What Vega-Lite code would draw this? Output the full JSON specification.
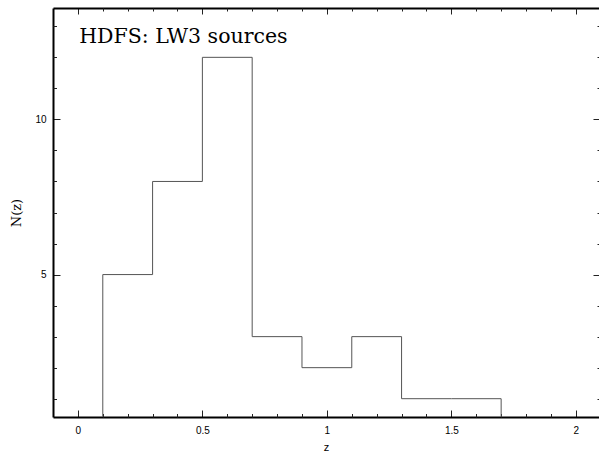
{
  "$schema": "https://vega.github.io/schema/vega-lite/v6.json",
  "width": 546,
  "height": 409,
  "autosize": {"type": "none"},
  "padding": {"left": 53, "top": 8, "right": 0, "bottom": 36},
  "background": "white",
  "config": {
    "view": {"stroke": null},
    "axis": {
      "grid": false,
      "domain": false,
      "labelFont": "Liberation Sans",
      "labelFontSize": 10,
      "labelColor": "black",
      "tickColor": "#222",
      "tickWidth": 1,
      "titleColor": "black",
      "labelFlush": false,
      "labelOverlap": false
    }
  },
  "data": {
    "values": [
      {"z": 0, "n": 0},
      {"z": 0.1, "n": 5},
      {"z": 0.3, "n": 8},
      {"z": 0.5, "n": 12},
      {"z": 0.7, "n": 3},
      {"z": 0.9, "n": 2},
      {"z": 1.1, "n": 3},
      {"z": 1.3, "n": 1},
      {"z": 1.5, "n": 1},
      {"z": 1.7, "n": 0}
    ]
  },
  "layer": [
    {
      "mark": {"type": "line", "interpolate": "step-after", "stroke": "#555", "strokeWidth": 1, "clip": true},
      "encoding": {
        "x": {
          "field": "z", "type": "quantitative",
          "scale": {"domain": [-0.1, 2.093], "nice": false, "zero": false},
          "axis": {
            "orient": "bottom", "values": [0, 0.5, 1, 1.5, 2], "format": "~g",
            "tickSize": -7, "labelPadding": 15,
            "title": "z", "titleFont": "Liberation Sans", "titleFontSize": 11, "titleFontWeight": "normal", "titlePadding": 6,
            "domain": true, "domainWidth": 2, "domainColor": "black"
          }
        },
        "y": {
          "field": "n", "type": "quantitative",
          "scale": {"domain": [0.41, 13.59], "nice": false, "zero": false},
          "axis": {
            "orient": "left", "values": [5, 10],
            "tickSize": -7, "labelPadding": 14,
            "title": "N(z)", "titleFont": "DejaVu Serif", "titleFontSize": 13, "titleFontWeight": "normal", "titlePadding": 11,
            "domain": true, "domainWidth": 2, "domainColor": "black"
          }
        }
      }
    },
    {
      "mark": {"type": "line", "opacity": 0},
      "encoding": {
        "x": {
          "field": "z", "type": "quantitative",
          "scale": {"domain": [-0.1, 2.093], "nice": false, "zero": false},
          "axis": {
            "orient": "bottom",
            "values": [0.1, 0.2, 0.3, 0.4, 0.6, 0.7, 0.8, 0.9, 1.1, 1.2, 1.3, 1.4, 1.6, 1.7, 1.8, 1.9],
            "tickSize": -3.5, "labels": false, "title": null
          }
        },
        "y": {
          "field": "n", "type": "quantitative",
          "scale": {"domain": [0.41, 13.59], "nice": false, "zero": false},
          "axis": {
            "orient": "left",
            "values": [1, 2, 3, 4, 6, 7, 8, 9, 11, 12, 13],
            "tickSize": -3.5, "labels": false, "title": null
          }
        }
      }
    },
    {
      "mark": {"type": "line", "opacity": 0},
      "encoding": {
        "x": {
          "field": "z", "type": "quantitative",
          "scale": {"domain": [-0.1, 2.093], "nice": false, "zero": false},
          "axis": {
            "orient": "top", "values": [0, 0.5, 1, 1.5, 2],
            "tickSize": -6, "labels": false, "title": null,
            "domain": true, "domainWidth": 2, "domainColor": "black"
          }
        },
        "y": {
          "field": "n", "type": "quantitative",
          "scale": {"domain": [0.41, 13.59], "nice": false, "zero": false},
          "axis": {
            "orient": "right", "values": [5, 10],
            "tickSize": -6, "labels": false, "title": null
          }
        }
      }
    },
    {
      "mark": {"type": "line", "opacity": 0},
      "encoding": {
        "x": {
          "field": "z", "type": "quantitative",
          "scale": {"domain": [-0.1, 2.093], "nice": false, "zero": false},
          "axis": {
            "orient": "top",
            "values": [0.1, 0.2, 0.3, 0.4, 0.6, 0.7, 0.8, 0.9, 1.1, 1.2, 1.3, 1.4, 1.6, 1.7, 1.8, 1.9, 2.0],
            "tickSize": -3, "labels": false, "title": null
          }
        },
        "y": {
          "field": "n", "type": "quantitative",
          "scale": {"domain": [0.41, 13.59], "nice": false, "zero": false},
          "axis": {
            "orient": "right",
            "values": [1, 2, 3, 4, 6, 7, 8, 9, 11, 12, 13],
            "tickSize": -2, "labels": false, "title": null
          }
        }
      }
    },
    {
      "data": {"values": [{}]},
      "mark": {"type": "text", "text": "HDFS: LW3 sources", "font": "DejaVu Serif", "fontSize": 20.5, "align": "left", "baseline": "alphabetic", "color": "black"},
      "encoding": {
        "x": {"datum": 0.005, "type": "quantitative", "axis": null},
        "y": {"datum": 12.46, "type": "quantitative", "axis": null}
      }
    }
  ],
  "resolve": {"axis": {"x": "independent", "y": "independent"}}
}
